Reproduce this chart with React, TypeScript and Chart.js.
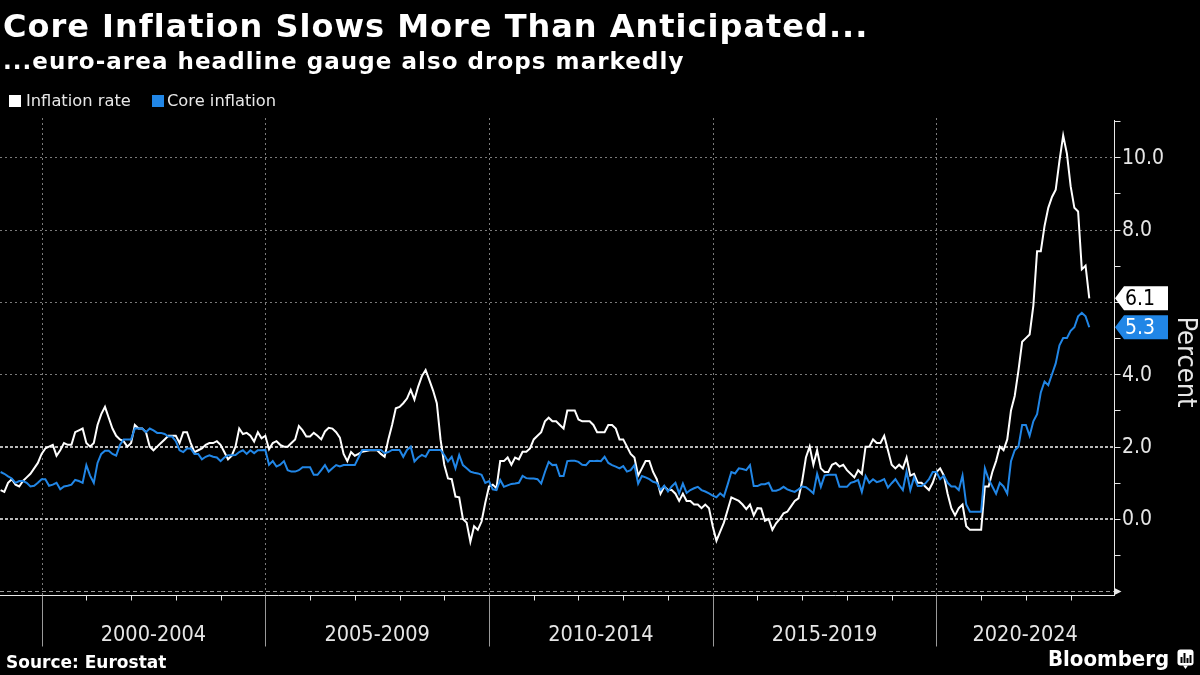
import React, { useEffect, useRef } from "react";
import { Chart, registerables } from "chart.js";

Chart.register(...registerables);

// ---------- data ----------
const START_YEAR = 1999; // first observation: Jan 1999, monthly

const inflationRate: number[] = [
  // 1999
  0.8, 0.75, 1.0, 1.1, 0.95, 0.9, 1.05, 1.15, 1.25, 1.4, 1.55, 1.8,
  // 2000
  1.95, 2.0, 2.05, 1.75, 1.9, 2.1, 2.05, 2.05, 2.4, 2.45, 2.5, 2.1,
  // 2001
  2.0, 2.1, 2.6, 2.9, 3.1, 2.8, 2.5, 2.3, 2.2, 2.15, 2.0, 2.1,
  // 2002
  2.6, 2.5, 2.5, 2.4, 2.0, 1.9, 2.0, 2.1, 2.2, 2.3, 2.3, 2.3,
  // 2003
  2.1, 2.4, 2.4, 2.1, 1.85, 1.9, 1.95, 2.05, 2.1, 2.1, 2.15, 2.05,
  // 2004
  1.85, 1.65, 1.75, 2.0, 2.5, 2.35, 2.38, 2.3, 2.14, 2.4, 2.23, 2.3,
  // 2005
  1.93, 2.1, 2.15, 2.05, 2.0, 2.0, 2.1, 2.2, 2.57, 2.45, 2.28, 2.28,
  // 2006
  2.38, 2.3, 2.2, 2.42, 2.52, 2.5, 2.4, 2.25, 1.8, 1.6, 1.85, 1.75,
  // 2007
  1.8, 1.86, 1.88, 1.9, 1.9, 1.9, 1.8, 1.72, 2.2, 2.6, 3.06, 3.1,
  // 2008
  3.2, 3.33, 3.57, 3.3, 3.66, 3.95, 4.12, 3.84, 3.55, 3.2, 2.2, 1.5,
  // 2009
  1.12, 1.1, 0.62, 0.6, 0.0, -0.1, -0.63, -0.2, -0.3, -0.07, 0.45, 0.9,
  // 2010
  0.95, 0.85, 1.6, 1.6, 1.7, 1.5, 1.7, 1.65, 1.86, 1.86, 1.95, 2.2,
  // 2011
  2.3, 2.4, 2.7, 2.8, 2.7, 2.7, 2.6, 2.5, 3.0, 3.0, 3.0, 2.75,
  // 2012
  2.7, 2.7, 2.7, 2.6, 2.4, 2.4, 2.4, 2.6, 2.6, 2.5, 2.2, 2.2,
  // 2013
  2.0, 1.8, 1.7, 1.2, 1.4, 1.6, 1.6, 1.3, 1.1, 0.7, 0.9, 0.8,
  // 2014
  0.8, 0.7, 0.5, 0.7, 0.5, 0.5, 0.4, 0.4, 0.3, 0.4, 0.3, -0.2,
  // 2015
  -0.6, -0.35, -0.1, 0.25, 0.6, 0.55, 0.5, 0.4, 0.27, 0.4, 0.1, 0.3,
  // 2016
  0.29, -0.05, 0.0, -0.3, -0.12, 0.0, 0.16, 0.2, 0.35, 0.5, 0.57, 1.05,
  // 2017
  1.7, 2.0, 1.5, 1.9, 1.4, 1.3, 1.3, 1.5, 1.55, 1.45, 1.5, 1.35,
  // 2018
  1.25, 1.15, 1.35, 1.25, 2.0, 2.0, 2.2, 2.1, 2.1, 2.3, 1.9, 1.5,
  // 2019
  1.4, 1.5, 1.4, 1.7, 1.2, 1.25, 1.0, 1.0, 0.9, 0.8, 1.0, 1.3,
  // 2020
  1.4, 1.2, 0.7, 0.3, 0.1, 0.3, 0.4, -0.2, -0.3, -0.3, -0.3, -0.3,
  // 2021
  0.9, 0.9, 1.3, 1.6, 2.0, 1.9, 2.2, 3.0, 3.4, 4.1, 4.9, 5.0,
  // 2022
  5.1, 5.9, 7.4, 7.4, 8.1, 8.6, 8.9, 9.1, 9.9, 10.6, 10.1, 9.2,
  // 2023
  8.6, 8.5, 6.9, 7.0, 6.1,
];

const coreInflation: number[] = [
  // 1999
  1.3, 1.25, 1.18, 1.12, 1.0, 1.05, 1.05, 1.0, 0.9, 0.92, 1.0, 1.1,
  // 2000
  1.1, 0.92, 0.95, 1.0, 0.82, 0.9, 0.92, 0.95, 1.08, 1.05, 1.0, 1.49,
  // 2001
  1.2, 1.0, 1.55, 1.8, 1.89, 1.89, 1.8, 1.75, 2.05, 2.2, 2.2, 2.2,
  // 2002
  2.5, 2.5, 2.5, 2.4, 2.5, 2.45, 2.38, 2.38, 2.35, 2.28, 2.28, 2.15,
  // 2003
  1.9, 1.85, 1.95, 1.95, 1.8, 1.8, 1.65, 1.72, 1.76, 1.72, 1.7, 1.6,
  // 2004
  1.7, 1.76, 1.76, 1.77, 1.85, 1.9, 1.8, 1.9, 1.82, 1.9, 1.9, 1.91,
  // 2005
  1.5, 1.6, 1.45, 1.5, 1.6, 1.35, 1.31, 1.31, 1.35, 1.43, 1.43, 1.43,
  // 2006
  1.22, 1.22, 1.35, 1.49, 1.31, 1.4, 1.49, 1.45, 1.49, 1.49, 1.49, 1.49,
  // 2007
  1.7, 1.91, 1.91, 1.91, 1.91, 1.91, 1.91, 1.82, 1.85, 1.91, 1.91, 1.91,
  // 2008
  1.72, 1.91, 2.0, 1.59, 1.7, 1.77, 1.72, 1.91, 1.91, 1.91, 1.91, 1.77,
  // 2009
  1.59, 1.72, 1.4, 1.77, 1.49, 1.4, 1.31, 1.28, 1.26, 1.22, 1.0, 1.05,
  // 2010
  0.82, 0.8, 1.08, 0.89, 0.93, 0.97, 0.98, 1.0, 1.19, 1.13, 1.12, 1.12,
  // 2011
  1.1, 0.98, 1.3, 1.58, 1.49, 1.5, 1.19, 1.19, 1.6, 1.61, 1.61, 1.58,
  // 2012
  1.5, 1.49, 1.6, 1.6, 1.61, 1.6, 1.72, 1.55, 1.49, 1.45, 1.4, 1.46,
  // 2013
  1.31, 1.35, 1.49, 0.98, 1.19, 1.15, 1.1, 1.03, 1.0, 0.8, 0.92, 0.76,
  // 2014
  0.9, 1.0, 0.71, 0.98, 0.72, 0.8, 0.85, 0.89, 0.8, 0.76, 0.71, 0.65,
  // 2015
  0.6, 0.71, 0.62, 0.95, 1.3, 1.26, 1.4, 1.38, 1.35, 1.49, 0.91, 0.91,
  // 2016
  0.96, 0.96, 1.0, 0.78, 0.78, 0.82, 0.89, 0.82, 0.78, 0.75, 0.82, 0.9,
  // 2017
  0.88, 0.8, 0.71, 1.25, 0.89, 1.2, 1.22, 1.22, 1.22, 0.89, 0.89, 0.89,
  // 2018
  1.0, 1.03, 1.08, 0.75, 1.19, 1.0, 1.1, 1.02, 1.05, 1.1, 0.87, 0.99,
  // 2019
  1.1, 0.94, 0.8, 1.31, 0.8, 1.15, 0.91, 0.91, 0.98, 1.1, 1.3, 1.3,
  // 2020
  1.1, 1.2, 1.0, 0.9, 0.9, 0.8, 1.2, 0.4, 0.2, 0.2, 0.2, 0.2,
  // 2021
  1.4, 1.1, 0.9, 0.7, 1.0, 0.9, 0.7, 1.6, 1.9, 2.0, 2.6, 2.6,
  // 2022
  2.3, 2.7, 2.9, 3.5, 3.8, 3.7, 4.0, 4.3, 4.8, 5.0, 5.0, 5.2,
  // 2023
  5.3, 5.6, 5.7, 5.6, 5.3,
];

const seriesNames = ["Inflation rate", "Core inflation"];
const periodLabels = ["2000-2004", "2005-2009", "2010-2014", "2015-2019", "2020-2024"];
const periodStartYears = [2000, 2005, 2010, 2015, 2020];
const yLabelValues = [0, 2, 4, 6, 8, 10];
const lastTickYear = 2023;

const TITLE = "Core Inflation Slows More Than Anticipated...";
const SUBTITLE = "...euro-area headline gauge also drops markedly";
const SOURCE = "Source: Eurostat";
const AXIS_TITLE = "Percent";

const WHITE = "#ffffff";
const BLUE = "#2186e6";

// x position: month-end of observation i, counted in months from 1 Jan START_YEAR
const monthEnd = (i: number) => i + 1;
const yearStart = (yr: number) => (yr - START_YEAR) * 12;

const COND = '"DejaVu Sans Condensed", "DejaVu Sans", sans-serif';

const decorPlugin = {
  id: "decor",
  beforeDatasetsDraw(chart: any) {
    const { ctx, chartArea: ca, scales } = chart;
    const xs = scales.x;
    const ys = scales.y;
    ctx.save();
    // horizontal gridlines
    for (let v = -2; v <= 10; v += 2) {
      const py = ys.getPixelForValue(v);
      ctx.beginPath();
      if (v === 0 || v === 2) {
        ctx.strokeStyle = "#b8b8b8";
        ctx.lineWidth = 2;
        ctx.setLineDash([3, 2]);
        const yy = Math.round(py);
        ctx.moveTo(ca.left, yy);
        ctx.lineTo(ca.right, yy);
      } else if (v === -2) {
        ctx.strokeStyle = "#9a9a9a";
        ctx.lineWidth = 1;
        ctx.setLineDash([4, 3]);
        const yy = Math.round(py) + 0.5;
        ctx.moveTo(ca.left, yy);
        ctx.lineTo(ca.right, yy);
      } else {
        ctx.strokeStyle = "#7a7a7a";
        ctx.lineWidth = 1;
        ctx.setLineDash([2, 3]);
        const yy = Math.round(py) + 0.5;
        ctx.moveTo(ca.left, yy);
        ctx.lineTo(ca.right, yy);
      }
      ctx.stroke();
    }
    // vertical gridlines at period boundaries
    ctx.strokeStyle = "#7a7a7a";
    ctx.lineWidth = 1;
    ctx.setLineDash([2, 3]);
    periodStartYears.forEach((yr) => {
      const px = Math.round(xs.getPixelForValue(yearStart(yr))) + 0.5;
      ctx.beginPath();
      ctx.moveTo(px, ca.top - 3);
      ctx.lineTo(px, ca.bottom);
      ctx.stroke();
    });
    ctx.restore();
  },
  afterDatasetsDraw(chart: any) {
    const { ctx, chartArea: ca, scales } = chart;
    const xs = scales.x;
    const ys = scales.y;
    ctx.save();
    ctx.setLineDash([]);

    // x axis line
    const axisY = ca.bottom + 0.5;
    ctx.strokeStyle = "#e8e8e8";
    ctx.lineWidth = 1;
    ctx.beginPath();
    ctx.moveTo(ca.left, axisY);
    ctx.lineTo(ca.right, axisY);
    ctx.stroke();

    // yearly minor ticks
    for (let yr = START_YEAR + 1; yr <= lastTickYear; yr++) {
      const px = Math.round(xs.getPixelForValue(yearStart(yr))) + 0.5;
      if (px < ca.left || px > ca.right) continue;
      ctx.beginPath();
      ctx.moveTo(px, axisY);
      ctx.lineTo(px, axisY + 5);
      ctx.stroke();
    }
    // period separators below axis
    ctx.strokeStyle = "#9a9a9a";
    periodStartYears.forEach((yr) => {
      const px = Math.round(xs.getPixelForValue(yearStart(yr))) + 0.5;
      ctx.beginPath();
      ctx.moveTo(px, axisY);
      ctx.lineTo(px, axisY + 51);
      ctx.stroke();
    });

    // period labels
    ctx.fillStyle = "#e6e6e6";
    ctx.font = `21.5px ${COND}`;
    ctx.textAlign = "center";
    ctx.textBaseline = "middle";
    periodLabels.forEach((lab, k) => {
      const a = xs.getPixelForValue(yearStart(periodStartYears[k]));
      const bVal = k + 1 < periodStartYears.length ? yearStart(periodStartYears[k + 1]) : xs.max;
      const b = xs.getPixelForValue(Math.min(bVal, xs.max));
      ctx.fillText(lab, (a + b) / 2, axisY + 40);
    });

    // right axis
    const axisX = ca.right + 0.5;
    ctx.strokeStyle = "#e8e8e8";
    ctx.beginPath();
    ctx.moveTo(axisX, ca.top - 1);
    ctx.lineTo(axisX, ca.bottom + 1);
    ctx.stroke();
    for (let v = Math.ceil(ys.min); v <= Math.floor(ys.max); v++) {
      const py = Math.round(ys.getPixelForValue(v)) + 0.5;
      if (v === -2) {
        ctx.fillStyle = "#e8e8e8";
        ctx.beginPath();
        ctx.moveTo(axisX, py - 3.5);
        ctx.lineTo(axisX + 7, py);
        ctx.lineTo(axisX, py + 3.5);
        ctx.closePath();
        ctx.fill();
      } else {
        ctx.beginPath();
        ctx.moveTo(axisX, py);
        ctx.lineTo(axisX + 6, py);
        ctx.stroke();
      }
    }
    ctx.fillStyle = "#e6e6e6";
    ctx.font = `21px ${COND}`;
    ctx.textAlign = "left";
    ctx.textBaseline = "middle";
    yLabelValues.forEach((v) => {
      ctx.fillText(v.toFixed(1), ca.right + 8, ys.getPixelForValue(v) + 1);
    });

    // axis title
    ctx.save();
    ctx.translate(ca.right + 71, (ca.top + ca.bottom) / 2 + 4);
    ctx.rotate(Math.PI / 2);
    ctx.font = `27px ${COND}`;
    ctx.textAlign = "center";
    ctx.textBaseline = "middle";
    ctx.fillStyle = "#e6e6e6";
    ctx.fillText(AXIS_TITLE, 0, 0);
    ctx.restore();

    // last-value callouts
    const callouts = [
      { v: inflationRate[inflationRate.length - 1], bg: WHITE, fg: "#000000" },
      { v: coreInflation[coreInflation.length - 1], bg: BLUE, fg: "#ffffff" },
    ];
    callouts.forEach((c) => {
      const py = ys.getPixelForValue(c.v);
      const tip = ca.right + 1;
      const h = 12;
      const right = ca.right + 54;
      ctx.fillStyle = c.bg;
      ctx.beginPath();
      ctx.moveTo(tip, py);
      ctx.lineTo(tip + 9, py - h);
      ctx.lineTo(right, py - h);
      ctx.lineTo(right, py + h);
      ctx.lineTo(tip + 9, py + h);
      ctx.closePath();
      ctx.fill();
      ctx.fillStyle = c.fg;
      ctx.font = `21px ${COND}`;
      ctx.textAlign = "left";
      ctx.textBaseline = "middle";
      ctx.fillText(c.v.toFixed(1), tip + 10, py + 1);
    });

    ctx.restore();
  },
};

export default function App() {
  const ref = useRef<HTMLCanvasElement>(null);

  useEffect(() => {
    document.body.style.margin = "0";
    document.body.style.background = "#000";
    const canvas = ref.current;
    if (!canvas) return;
    const chart = new Chart(canvas, {
      type: "line",
      data: {
        datasets: [
          {
            label: seriesNames[0],
            data: inflationRate.map((v, i) => ({ x: monthEnd(i), y: v })),
            borderColor: WHITE,
            backgroundColor: WHITE,
            borderWidth: 2,
            pointRadius: 0,
            tension: 0,
            order: 1,
          },
          {
            label: seriesNames[1],
            data: coreInflation.map((v, i) => ({ x: monthEnd(i), y: v })),
            borderColor: BLUE,
            backgroundColor: BLUE,
            borderWidth: 2,
            pointRadius: 0,
            tension: 0,
            order: 0,
          },
        ],
      },
      options: {
        responsive: false,
        animation: false,
        devicePixelRatio: 1,
        events: [],
        layout: { padding: { left: 0, top: 121, right: 86, bottom: 80 } },
        plugins: {
          legend: { display: false },
          title: { display: false },
          tooltip: { enabled: false },
        },
        scales: {
          x: { type: "linear", display: false, min: 0.84, max: 299.63 },
          y: { type: "linear", display: false, min: -2.1, max: 11 },
        },
      },
      plugins: [decorPlugin],
    } as any);
    return () => chart.destroy();
  }, []);

  const base: React.CSSProperties = {
    position: "absolute",
    whiteSpace: "nowrap",
    lineHeight: 1,
    color: "#ffffff",
    fontFamily: '"DejaVu Sans", sans-serif',
  };

  return (
    <div
      style={{
        position: "absolute",
        left: 0,
        top: 0,
        width: 1200,
        height: 675,
        background: "#000",
        overflow: "hidden",
      }}
    >
      <canvas ref={ref} width={1200} height={675} style={{ position: "absolute", left: 0, top: 0 }} />
      <div style={{ ...base, left: 3, top: 10, fontSize: 32, fontWeight: 700, letterSpacing: 1 }}>{TITLE}</div>
      <div style={{ ...base, left: 3, top: 50, fontSize: 23, fontWeight: 700, letterSpacing: 1.05 }}>{SUBTITLE}</div>
      <div style={{ position: "absolute", left: 9, top: 95, width: 12, height: 12, background: WHITE }} />
      <div style={{ ...base, left: 26, top: 93, fontSize: 16.3, color: "#e8e8e8" }}>{seriesNames[0]}</div>
      <div style={{ position: "absolute", left: 152, top: 95, width: 12, height: 12, background: BLUE }} />
      <div style={{ ...base, left: 167, top: 93, fontSize: 16.3, color: "#e8e8e8" }}>{seriesNames[1]}</div>
      <div style={{ ...base, left: 6, top: 654, fontSize: 17, fontWeight: 700 }}>{SOURCE}</div>
      <div
        style={{
          ...base,
          left: 1048,
          top: 648,
          fontSize: 22,
          fontWeight: 700,
          fontFamily: '"DejaVu Sans Condensed", "DejaVu Sans", sans-serif',
          fontStretch: "condensed",
        }}
      >
        Bloomberg
      </div>
      <svg width={20} height={24} style={{ position: "absolute", left: 1177, top: 649 }}>
        <rect x={0.5} y={0.5} width={16} height={16} rx={3} fill="#ffffff" />
        <path d="M6 16.5 L8.5 20 L11 16.5 Z" fill="#ffffff" />
        <rect x={3.5} y={8} width={2} height={6} fill="#000" />
        <rect x={6.5} y={4} width={2} height={10} fill="#000" />
        <rect x={9.5} y={9} width={2} height={5} fill="#000" />
        <rect x={12.5} y={6} width={2} height={8} fill="#000" />
      </svg>
    </div>
  );
}
